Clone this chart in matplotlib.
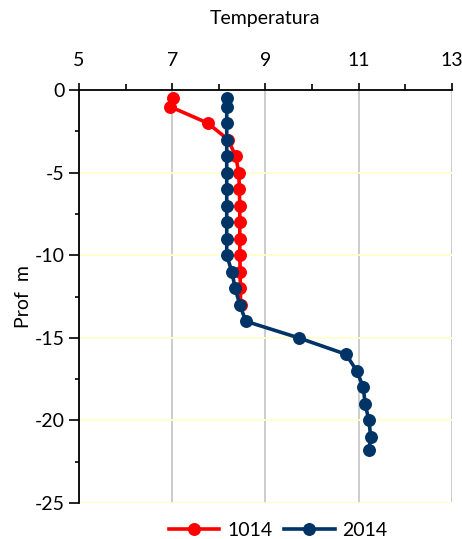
import numpy as np
import matplotlib
matplotlib.use("Agg")
import matplotlib.pyplot as plt

plt.rcParams['font.family'] = ['Lato', 'DejaVu Sans']
plt.rcParams['axes.unicode_minus'] = False

# datos
prof_1014 = [-0.5, -1, -2, -3, -4, -5, -6, -7, -8, -9, -10, -11, -12, -13]
temp_1014 = [7.02, 6.95, 7.76, 8.2, 8.36, 8.43, 8.44, 8.45, 8.45, 8.45, 8.45, 8.46, 8.46, 8.47]

prof_2014 = [-0.5, -1, -2, -3, -4, -5, -6, -7, -8, -9, -10, -11, -12, -13,
             -14, -15, -16, -17, -18, -19, -20, -21, -21.8]
temp_2014 = [8.17, 8.17, 8.17, 8.17, 8.17, 8.17, 8.17, 8.17, 8.17, 8.17, 8.17, 8.28, 8.35, 8.45,
             8.58, 9.71, 10.73, 10.96, 11.1, 11.14, 11.22, 11.26, 11.22]

xticks = [5, 7, 9, 11, 13]
xminor = [6, 8, 10, 12]
yticks = [0, -5, -10, -15, -20, -25]
yminor = [-2.5, -7.5, -12.5, -17.5, -22.5]

rojo = '#FF0000'
azul = '#003366'
fs = 14

fig = plt.figure(figsize=(4.62, 5.39), dpi=100)
ax = fig.add_axes([0.171, 0.0668, 0.807, 0.7662])

ax.plot(temp_1014, prof_1014, '-o', color=rojo, lw=2.6, ms=8.3, label='1014', zorder=3)
ax.plot(temp_2014, prof_2014, '-o', color=azul, lw=2.6, ms=8.3, label='2014', zorder=4)

ax.set_xlim(5, 13)
ax.set_ylim(-25, 0)
ax.set_xticks(xticks)
ax.set_xticks(xminor, minor=True)
ax.set_yticks(yticks)
ax.set_yticks(yminor, minor=True)
ax.xaxis.tick_top()
ax.xaxis.set_label_position('top')

for s in ['right', 'bottom']:
    ax.spines[s].set_visible(False)
ax.spines['left'].set_linewidth(1.3)
ax.spines['top'].set_linewidth(1.3)

ax.tick_params(axis='x', which='major', direction='out', length=5, width=1.2, labelsize=fs, pad=10)
ax.tick_params(axis='x', which='minor', direction='out', length=4, width=1.2)
ax.tick_params(axis='y', which='major', direction='out', length=7, width=1.2, labelsize=fs)
ax.tick_params(axis='y', which='minor', direction='out', length=3, width=1.2)

ax.grid(axis='x', which='major', color='#C8C8C8', lw=1.3)
ax.grid(axis='y', which='major', color='#FFFFCC', lw=1.3)
ax.set_axisbelow(True)

ax.set_xlabel('Temperatura', fontsize=fs, labelpad=20)
ax.set_ylabel('Prof  m', fontsize=fs, labelpad=2)

fig.legend(loc='center', bbox_to_anchor=(0.602, 0.016), ncol=2, frameon=False,
           fontsize=fs, handlelength=2.6, columnspacing=0.6, handletextpad=0.4)

plt.savefig('out.png', dpi=100)
